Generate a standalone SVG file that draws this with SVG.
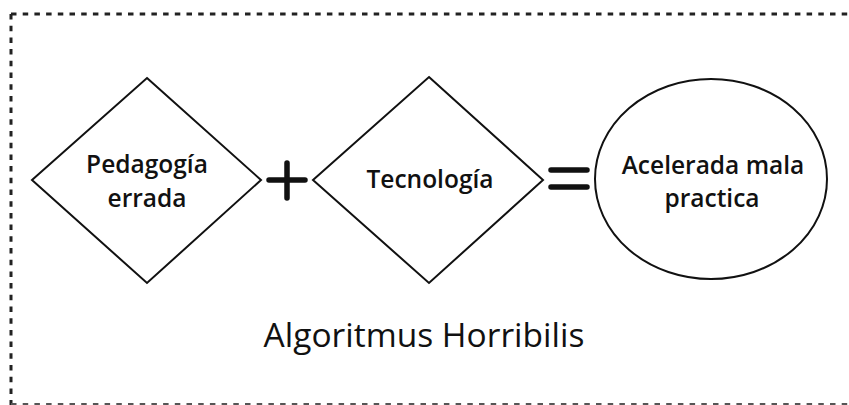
<svg xmlns="http://www.w3.org/2000/svg" width="849" height="405" viewBox="0 0 849 405">
  <style>
    .frame { fill: none; stroke: #222; stroke-width: 3; stroke-dasharray: 5.5 6.2; }
    .frame-bottom { fill: none; stroke: #555; stroke-width: 2; stroke-dasharray: 5.5 6.2; }
    .shape { fill: #fff; stroke: #111; stroke-width: 2; }
    .op { fill: none; stroke: #111; stroke-width: 5.5; stroke-linecap: round; }
    .label { font-family: "Open Sans", "Noto Sans", sans-serif; font-weight: 600; font-size: 24.5px; fill: #111; text-anchor: middle; }
    .title { font-family: "Open Sans", "Noto Sans", sans-serif; font-size: 33.5px; fill: #111; text-anchor: middle; }
  </style>
  <rect width="849" height="405" fill="#fff"/>

  <!-- dashed frame: top, left and bottom edges -->
  <g id="frame">
    <path class="frame" d="M11 14 H849 M11 14 V405"/>
    <path class="frame-bottom" d="M11 404 H849"/>
  </g>

  <g id="node-pedagogia">
    <polygon class="shape" points="147,78 261,180 147,283 32,180"/>
    <text class="label" x="147" y="173">Pedagogía</text>
    <text class="label" x="147" y="207">errada</text>
  </g>

  <g id="node-tecnologia">
    <polygon class="shape" points="429,77 543,180 429,283 313,180"/>
    <text class="label" x="430" y="188">Tecnología</text>
  </g>

  <g id="node-resultado">
    <ellipse class="shape" cx="711" cy="179" rx="116" ry="100"/>
    <text class="label" x="713" y="174">Acelerada mala</text>
    <text class="label" x="712" y="207">practica</text>
  </g>

  <!-- operators between the nodes -->
  <g id="connectors">
    <path class="op" d="M269 180 H305 M287 163 V198"/>
    <path class="op" d="M551 170 H587 M551 187 H587"/>
  </g>

  <text class="title" x="424" y="347">Algoritmus Horribilis</text>
</svg>
